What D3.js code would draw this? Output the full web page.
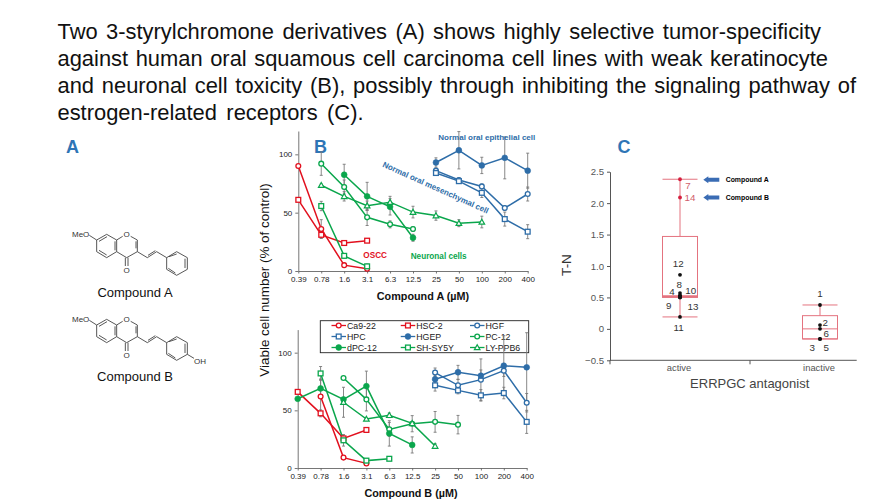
<!DOCTYPE html>
<html><head><meta charset="utf-8">
<script src="https://cdn.jsdelivr.net/npm/d3@7"></script>
<style>html,body{margin:0;padding:0;background:#fff}svg{display:block}text{font-family:"Liberation Sans",Arial,sans-serif}</style>
</head><body><svg id="c" width="896" height="504"></svg>
<script>
// ---------- text ----------
const titleLines = [
 "Two 3-styrylchromone derivatives (A) shows highly selective tumor-specificity",
 "against human oral squamous cell carcinoma cell lines with weak keratinocyte",
 "and neuronal cell toxicity (B), possibly through inhibiting the signaling pathway of",
 "estrogen-related receptors (C)."];
const titleWidths = [763.5, 770.5, 798.5, 306];

// ---------- panel B data (viability) ----------
const doses = ["0.39","0.78","1.6","3.1","6.3","12.5","25","50","100","200","400"];
const seriesNames = ["Ca9-22","HSC-2","HGF","HPC","HGEP","PC-12","dPC-12","SH-SY5Y","LY-PPB6"];
const seriesColors = ["#e2101e","#e2101e","#2e6da8","#2e6da8","#2e6da8","#0aa64c","#0aa64c","#0aa64c","#0aa64c"];
const seriesMarks = ["circle","square","circle","square","dot","circle","dot","square","triangle"];
const _ = null;
const a_ca    = [90,36,5,2,_,_,_,_,_,_,_];
const a_hsc   = [61,31,24,26,_,_,_,_,_,_,_];
const a_hgf   = [_,_,_,_,_,_,86,78,72.5,54,66];
const a_hpc   = [_,_,_,_,_,_,84,77,67,44.5,33.7];
const a_hgep  = [_,_,_,_,_,_,93,103.5,90.5,97,86];
const a_pc    = [_,92,72,46,40,36,_,_,_,_,_];
const a_dpc   = [_,_,82.5,64,55,28.5,_,_,_,_,_];
const a_sh    = [_,55.7,13,4,_,_,_,_,_,_,_];
const a_ly    = [_,73.5,64,56,59,50.5,47.5,41,42,_,_];
const aErr_ca   = [_,8,_,_,_,_,_,_,_,_,_];
const aErr_hsc  = [_,3,_,_,_,_,_,_,_,_,_];
const aErr_hgf  = [_,_,_,_,_,_,2,2,2,2,6];
const aErr_hpc  = [_,_,_,_,_,_,2,2,4,6,6];
const aErr_hgep = [_,_,_,_,_,_,4,16,7,18,15];
const aErr_pc   = [_,10,6,7,3,2,_,_,_,_,_];
const aErr_dpc  = [_,_,9,12,7,3,_,_,_,_,_];
const aErr_sh   = [_,4,2,2,_,_,_,_,_,_,_];
const aErr_ly   = [_,1,4,4,5,5,4,3,5,_,_];

const b_ca    = [_,62,9,4,_,_,_,_,_,_,_];
const b_hsc   = [66,47.4,25.7,33,_,_,_,_,_,_,_];
const b_hgf   = [_,_,_,_,_,_,82.7,71.7,76.6,84.4,56.6];
const b_hpc   = [_,_,_,_,_,_,71.7,67.3,63,65,40];
const b_hgep  = [_,_,_,_,_,_,77,83,80,88.7,87.3];
const b_pc    = [_,_,78,59.5,33.5,38.4,40,37.6,_,_,_];
const b_dpc   = [60,69,59.5,71,30,20,_,_,_,_,_];
const b_sh    = [_,82,24,6.4,8,_,_,_,_,_,_];
const b_ly    = [_,_,57,42.5,45.7,38.7,19,_,_,_,_];
const bErr_ca   = [_,15,_,_,_,_,_,_,_,_,_];
const bErr_hsc  = [_,3,2,_,_,_,_,_,_,_,_];
const bErr_hgf  = [_,_,_,_,_,_,4,5,18,5,8];
const bErr_hpc  = [_,_,_,_,_,_,5,3,5,5,10];
const bErr_hgep = [_,_,_,_,_,_,3,6,5,26,30];
const bErr_pc   = [_,_,_,10,6,7,9,8,_,_,_];
const bErr_dpc  = [_,8,_,13,11,7,_,_,_,_,_];
const bErr_sh   = [_,6,5,_,_,_,_,_,_,_,_];
const bErr_ly   = [_,_,13,_,2,_,2,_,_,_,_];

const panelSeriesA = [a_ca,a_hsc,a_hgf,a_hpc,a_hgep,a_pc,a_dpc,a_sh,a_ly];
const panelErrA    = [aErr_ca,aErr_hsc,aErr_hgf,aErr_hpc,aErr_hgep,aErr_pc,aErr_dpc,aErr_sh,aErr_ly];
const panelSeriesB = [b_ca,b_hsc,b_hgf,b_hpc,b_hgep,b_pc,b_dpc,b_sh,b_ly];
const panelErrB    = [bErr_ca,bErr_hsc,bErr_hgf,bErr_hpc,bErr_hgep,bErr_pc,bErr_dpc,bErr_sh,bErr_ly];
const yTicksV = [0,50,100];

// ---------- panel C data (box plot) ----------
const groups = ["active","inactive"];
const boxLow   = [0.5,-0.16];
const boxHigh  = [1.47,0.21];
const boxMed   = [0.52,0];
const whiskLow = [0.19,-0.16];
const whiskHigh= [2.38,0.38];
const ptIds    = ["7","14","12","8","4","10","9","13","11","1","2","6","3","5"];
const ptGroup  = ["active","active","active","active","active","active","active","active","active","inactive","inactive","inactive","inactive","inactive"];
const ptValues = [2.38,2.09,0.86,0.57,0.53,0.53,0.5,0.5,0.19,0.38,0.06,0,-0.16,-0.16];
const ptDx     = [8,10,-1.7,-0.7,-8,10.7,-11.3,13,-1.3,0,5.3,6.3,-7.7,6.3];
const ptDy     = [6.7,0,-11.7,-9,-4,-4.7,8.3,9,11,-11,-3,4.3,9,9];
const yTicksC  = [-0.5,0,0.5,1,1.5,2,2.5];

// ---------- structures (drawing units of one molecule) ----------
const coreBonds = [[140,120,170,103],[170,103,200,120],[200,120,200,155],[200,155,170,173],[170,173,140,155],[140,155,140,120],
 [147,124,171,110],[147,151,170,165],[195,124,195,151],
 [200,120,218,109],[242,109,262,120],[262,120,262,155],[258,124,258,145],[262,155,230,173],[230,173,200,155],
 [226,173,226,198],[234,173,234,198],
 [262,155,292,173],[292,173,320,155],[294,166,316,152],[320,155,350,173],
 [350,173,380,155],[380,155,412,173],[412,173,412,208],[412,208,380,226],[380,226,350,208],[350,208,350,173],
 [357,170,380,162],[405,176,405,204],[376,219,355,205],[118,106,140,120]];

const svg = d3.select("#c");
const black = "#111";

// title
const titleG = svg.append("g");
titleLines.forEach((t,i)=>{
  const el = titleG.append("text").attr("x",57.5).attr("y",39.3+i*26.9).attr("font-size",21.9).attr("fill",black).text(t);
  const w = el.node().getComputedTextLength();
  const gaps = t.split(" ").length-1;
  el.style("word-spacing",((titleWidths[i]-w)/gaps)+"px");
});

// panel letters
[["A",66,153],["B",314,153],["C",617.5,153]].forEach(d=>{
  svg.append("text").attr("x",d[1]).attr("y",d[2]).attr("font-size",18).attr("font-weight","bold").attr("fill","#2e75b6").text(d[0]);
});

// structures
function molecule(dy, extraOH, label, labelY){
  const sx = d3.scaleLinear().domain([0,3]).range([50,51]);
  const sy = d3.scaleLinear().domain([0,3]).range([200+dy,201+dy]);
  const g = svg.append("g").attr("stroke","#444").attr("stroke-width",0.9).attr("fill","none");
  g.selectAll("line").data(coreBonds).join("line")
    .attr("x1",d=>sx(d[0])).attr("y1",d=>sy(d[1])).attr("x2",d=>sx(d[2])).attr("y2",d=>sy(d[3]));
  const t=(x,y,s)=>svg.append("text").attr("x",sx(x)).attr("y",sy(y)).attr("font-size",8).attr("fill","#333").attr("text-anchor","middle").text(s);
  t(92,112,"MeO"); t(230,112,"O"); t(230,220,"O");
  if(extraOH){
    g.append("line").attr("x1",sx(412)).attr("y1",sy(208)).attr("x2",sx(432)).attr("y2",sy(220));
    t(450,238,"OH");
  }
  svg.append("text").attr("x",135).attr("y",labelY).attr("font-size",13).attr("fill",black).attr("text-anchor","middle").text(label);
}
molecule(0,false,"Compound A",296.5);
molecule(85,true,"Compound B",380.5);

// markers
function marker(g,kind,cx,cy,color){
  if(kind==="circle") g.append("circle").attr("cx",cx).attr("cy",cy).attr("r",2.4).attr("fill","#fff").attr("stroke",color).attr("stroke-width",1.3);
  if(kind==="dot") g.append("circle").attr("cx",cx).attr("cy",cy).attr("r",2.9).attr("fill",color).attr("stroke",color).attr("stroke-width",0.6);
  if(kind==="square") g.append("rect").attr("x",cx-2.4).attr("y",cy-2.4).attr("width",4.8).attr("height",4.8).attr("fill","#fff").attr("stroke",color).attr("stroke-width",1.3);
  if(kind==="triangle") g.append("path").attr("d",`M${cx},${cy-2.8}L${cx+2.8},${cy+2.2}L${cx-2.8},${cy+2.2}Z`).attr("fill","#fff").attr("stroke",color).attr("stroke-width",1.2);
}

// legend (drawn before panel B marks, whose error bars cross it)
const legG = svg.append("g");
legG.append("rect").attr("x",320.3).attr("y",320.7).attr("width",208.4).attr("height",32).attr("fill","#fff").attr("stroke","#222").attr("stroke-width",0.9);
const legX = d3.scalePoint().domain([0,1,2]).range([331.5,470]);
const legY = d3.scalePoint().domain([0,1,2]).range([325.5,347.5]);
seriesNames.forEach((n,i)=>{
  const col=i%3,row=Math.floor(i/3),x=legX(col),y=legY(row),c=seriesColors[i];
  legG.append("line").attr("x1",x).attr("x2",x+14.5).attr("y1",y).attr("y2",y).attr("stroke",c).attr("stroke-width",1.3);
  marker(legG,seriesMarks[i],x+7.2,y,c);
  legG.append("text").attr("x",x+15.5).attr("y",y+3.1).attr("font-size",8.8).attr("fill","#222").text(n);
});

// line panels
function linePanel(opts){
  const x = d3.scalePoint().domain(doses).range([opts.x0,opts.x1]);
  const y = d3.scaleLinear().domain([0,120]).range([opts.y0,opts.yTop]);
  const g = svg.append("g");
  const yAx = g.append("g").attr("transform",`translate(${opts.x0},0)`).call(d3.axisLeft(y).tickValues(yTicksV).tickSize(3).tickSizeOuter(0));
  const xAx = g.append("g").attr("transform",`translate(0,${opts.y0})`).call(d3.axisBottom(x).tickSize(2.5).tickSizeOuter(0).tickPadding(3));
  [yAx,xAx].forEach(a=>{
    a.selectAll("path,line").attr("stroke","#666").attr("stroke-width",0.9);
    a.selectAll("text").attr("font-size",8).attr("fill","#222").attr("font-family",'"Liberation Sans",Arial,sans-serif');
  });
  opts.values.forEach((vals,si)=>{
    const errs = opts.errs[si];
    doses.forEach((d,i)=>{
      if(vals[i]==null||errs[i]==null) return;
      const top=y(vals[i]+errs[i]),bot=y(vals[i]-errs[i]),cx=x(d);
      g.append("path").attr("d",`M${cx-1.5},${top}H${cx+1.5}M${cx},${top}V${bot}M${cx-1.5},${bot}H${cx+1.5}`)
        .attr("fill","none").attr("stroke","#7a7a7a").attr("stroke-width",0.9);
    });
  });
  const line = d3.line().defined(d=>d.v!=null).x(d=>x(d.d)).y(d=>y(d.v));
  opts.values.forEach((vals,si)=>{
    const pts = doses.map((d,i)=>({d,v:vals[i]}));
    g.append("path").datum(pts).attr("d",line).attr("fill","none").attr("stroke",seriesColors[si]).attr("stroke-width",1.5);
  });
  opts.values.forEach((vals,si)=>{
    doses.forEach((d,i)=>{ if(vals[i]!=null) marker(g,seriesMarks[si],x(d),y(vals[i]),seriesColors[si]); });
  });
  g.append("text").attr("x",opts.titleX).attr("y",opts.titleY).attr("text-anchor","middle").attr("font-size",10.8).attr("font-weight","bold").attr("fill",black).text(opts.title);
}
linePanel({x0:298.3,x1:527.7,y0:271,yTop:131,values:panelSeriesA,errs:panelErrA,title:"Compound A (µM)",titleX:423,titleY:299.7});
linePanel({x0:297.7,x1:526.7,y0:468,yTop:329.6,values:panelSeriesB,errs:panelErrB,title:"Compound B (µM)",titleX:411,titleY:496.7});

// shared y title
svg.append("text").attr("transform","translate(269,280) rotate(-90)").attr("text-anchor","middle").attr("font-size",13.4).attr("fill",black).text("Viable cell number (% of control)");

// annotations
const note=(s,x,y,c,fs,rot)=>{
  svg.append("text").attr("transform",`translate(${x},${y})`+(rot?` rotate(${rot})`:"")).attr("font-size",fs).attr("font-weight","bold").attr("fill",c).text(s);
};
note("Normal oral epithelial cell",438.3,139.7,"#2e6da8",8);
note("Normal oral mesenchymal cell",382,166.5,"#2e6da8",8,24.2);
note("OSCC",363.3,257.7,"#e2101e",8.2);
note("Neuronal cells",410.7,259.3,"#0aa64c",8.2);

// panel C
(function(){
  const x = d3.scaleBand().domain(groups).range([610,890]);
  const y = d3.scaleLinear().domain([-0.5,2.5]).range([360.3,171.7]);
  const g = svg.append("g");
  const fmt = v=>v===0?"0":d3.format(".1f")(v);
  const ya = g.append("g").attr("transform","translate(610,0)").call(d3.axisLeft(y).tickValues(yTicksC).tickFormat(fmt).tickSize(3).tickSizeOuter(0).tickPadding(3));
  ya.selectAll("path,line").attr("stroke","#555").attr("stroke-width",1);
  ya.selectAll("text").attr("font-size",9.6).attr("fill","#555").attr("font-family",'"DejaVu Sans",sans-serif');
  // baseline and group boundaries
  g.append("line").attr("x1",610).attr("x2",856.7).attr("y1",y(-0.5)).attr("y2",y(-0.5)).attr("stroke","#555").attr("stroke-width",1);
  groups.forEach(gr=>{
    g.append("line").attr("x1",x(gr)).attr("x2",x(gr)).attr("y1",y(-0.5)).attr("y2",y(-0.5)+4).attr("stroke","#555").attr("stroke-width",1);
  });
  const bw = 35, boxC="#e4737f";
  groups.forEach((gr,i)=>{
    const c=x(gr)+x.bandwidth()/2;
    g.append("line").attr("x1",c).attr("x2",c).attr("y1",y(whiskHigh[i])).attr("y2",y(boxHigh[i])).attr("stroke",boxC).attr("stroke-width",1);
    g.append("line").attr("x1",c).attr("x2",c).attr("y1",y(boxLow[i])).attr("y2",y(whiskLow[i])).attr("stroke",boxC).attr("stroke-width",1);
    [whiskHigh[i],whiskLow[i]].forEach(v=>g.append("line").attr("x1",c-bw/2).attr("x2",c+bw/2).attr("y1",y(v)).attr("y2",y(v)).attr("stroke",boxC).attr("stroke-width",1));
    g.append("rect").attr("x",c-bw/2).attr("y",y(boxHigh[i])).attr("width",bw).attr("height",y(boxLow[i])-y(boxHigh[i])).attr("fill","none").attr("stroke",boxC).attr("stroke-width",1);
    g.append("line").attr("x1",c-bw/2).attr("x2",c+bw/2).attr("y1",y(boxMed[i])).attr("y2",y(boxMed[i])).attr("stroke",boxC).attr("stroke-width",i===0?2:1);
    g.append("text").attr("x",c-1).attr("y",370.7).attr("text-anchor","middle").attr("font-size",9.4).attr("fill","#555").attr("font-family",'"DejaVu Sans",sans-serif').text(gr);
  });
  ptIds.forEach((id,i)=>{
    const c=x(ptGroup[i])+x.bandwidth()/2, py=y(ptValues[i]), red=i<2;
    g.append("circle").attr("cx",c).attr("cy",py).attr("r",1.9).attr("fill",red?"#d5203f":"#111");
    g.append("text").attr("x",c+ptDx[i]).attr("y",py+ptDy[i]+3.5).attr("text-anchor","middle").attr("font-size",9.8).attr("fill",red?"#d0606a":"#333").attr("font-family",'"DejaVu Sans",sans-serif').text(id);
  });
  svg.append("text").attr("transform","translate(571,265) rotate(-90)").attr("text-anchor","middle").attr("font-size",13.5).attr("fill","#333").attr("font-family",'"Open Sans",sans-serif').text("T-N");
  svg.append("text").attr("x",749.7).attr("y",388).attr("text-anchor","middle").attr("font-size",13).attr("fill","#444").attr("font-family",'"Open Sans",sans-serif').text("ERRPGC antagonist");
  // arrows to the two compounds
  [["Compound  A",0],["Compound  B",1]].forEach(d=>{
    const py=y(ptValues[d[1]])+(d[1]?0:0.5);
    g.append("path").attr("d",`M703.3,${py}l5,-3.6v1.7h11v3.8h-11v1.7Z`).attr("fill","#3a6cb4");
    g.append("text").attr("x",725.7).attr("y",py+2.5).attr("font-size",6.9).attr("font-weight","bold").attr("fill","#000").text(d[0]);
  });
})();
</script></body></html>
